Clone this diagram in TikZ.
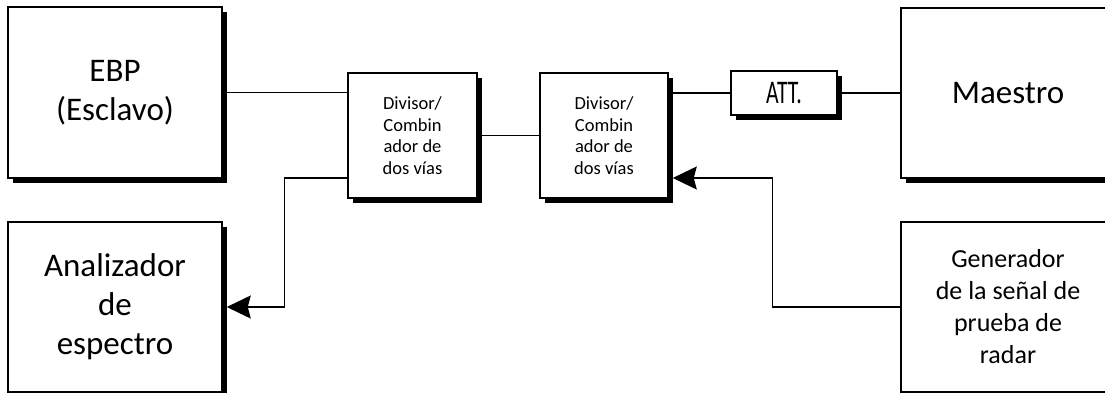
\documentclass[tikz,border=0pt]{standalone}
\usepackage{fontspec}
\setmainfont{Carlito}
\usetikzlibrary{arrows.meta,shadows}
\tikzset{
  blockbox/.style={draw, line width=1.5pt, fill=white, align=center, inner sep=0pt,
    drop shadow={shadow xshift=4.5pt, shadow yshift=-5pt, fill=black, opacity=1}},
  big/.style={font=\fontsize{33}{39}\selectfont},
  mid/.style={font=\fontsize{26}{32}\selectfont},
  small/.style={font=\fontsize{18.5}{21.5}\selectfont},
  sig/.style={line width=1.4pt},
  sigarrow/.style={sig, -{Stealth[length=24pt,width=23pt,inset=3pt]}}
}
\begin{document}
\begin{tikzpicture}[x=1pt,y=-1pt]
      \useasboundingbox (0,0) rectangle (1105,393);
      \node[blockbox, big, minimum width=214pt, minimum height=171pt] (ebp) at (115,92.5) {EBP\\(Esclavo)};
      \node[blockbox, big, minimum width=214pt, minimum height=170pt] (ana) at (115,307) {Analizador\\de\\espectro};
      \node[blockbox, small, minimum width=129pt, minimum height=125pt] (div1) at (412.5,135.5) {Divisor/\\Combin\\ador de\\dos vías};
      \node[blockbox, small, minimum width=128pt, minimum height=125pt] (div2) at (604,135.5) {Divisor/\\Combin\\ador de\\dos vías};
      \node[blockbox, big, minimum width=106pt, minimum height=44pt] (att) at (784,93) {\scalebox{0.66}[1]{ATT.}};
      \node[blockbox, big, minimum width=214pt, minimum height=170pt] (mae) at (1008,93) {Maestro};
      \node[blockbox, mid, minimum width=214pt, minimum height=170pt] (gen) at (1008,307) {Generador\\de la señal de\\prueba de\\radar};
      \begin{scope}[sig]
        \draw (ebp.east) to (ebp.east -| div1.west);
        \draw (div1.east) to (div2.west);
        \draw (att.west -| div2.east) to (att.west);
        \draw (att.east) to (att.east -| mae.west);
        \draw[sigarrow] ([yshift=-42.5pt]div1.west) -- ++(-63,0) |- ([xshift=4pt]ana.east);
        \draw[sigarrow] (gen.west) -- ++(-128,0) |- ([xshift=4pt,yshift=-42.5pt]div2.east);
      \end{scope}
    \end{tikzpicture}
\end{document}
